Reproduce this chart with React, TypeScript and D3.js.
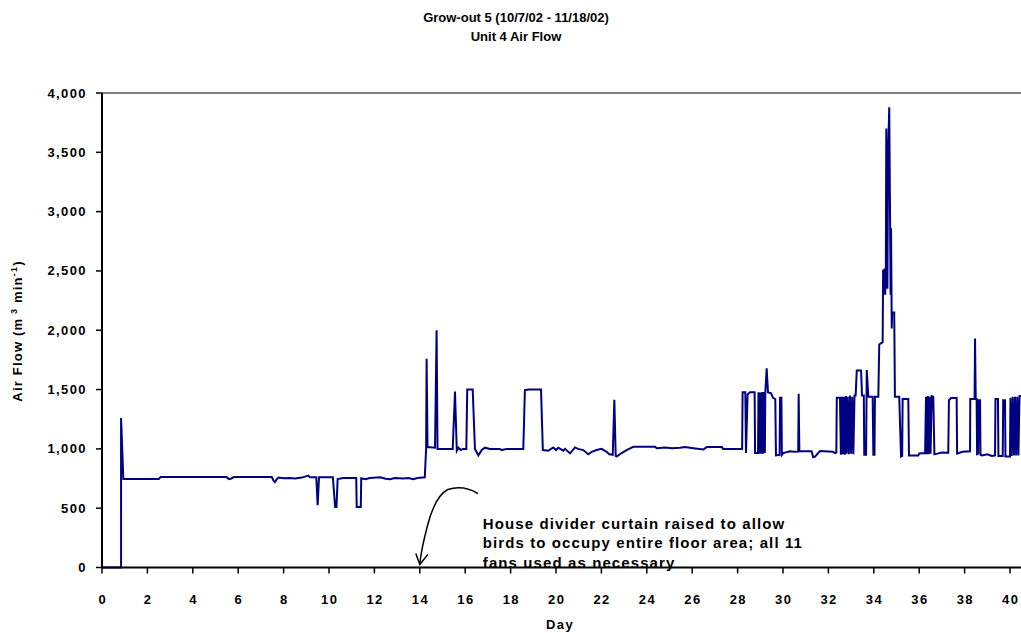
import React from 'react';
import * as d3 from 'd3';

const TITLE_LINES = ['Grow-out 5 (10/7/02 - 11/18/02)', 'Unit 4 Air Flow'];
const X_TICKS = d3.range(0, 41, 2);
const Y_TICKS = [0, 500, 1000, 1500, 2000, 2500, 3000, 3500, 4000];
const NOTE_LINES = [
  'House divider curtain raised to allow',
  'birds to occupy entire floor area; all 11',
  'fans used as necessary',
];
const NOTE_DAY = 14.0; // day the curtain was raised

// [day, air flow m3/min]
const HALF_HOUSE: [number, number][] = [
  [0, 0], [0.84, 0], [0.84, 1260], [0.94, 745], [2.5, 745], [2.58, 762], [5.49, 762],
  [5.6, 745], [5.7, 750], [5.8, 762], [7.48, 762], [7.55, 735], [7.62, 720], [7.7, 745],
  [7.78, 758], [8.0, 752], [8.28, 755], [8.5, 750], [8.8, 758], [9.09, 775], [9.16, 760],
  [9.44, 760], [9.5, 525], [9.56, 760], [10.17, 760], [10.27, 510], [10.33, 510],
  [10.38, 745], [10.63, 755], [11.2, 755], [11.22, 510], [11.4, 510], [11.42, 752],
  [11.6, 745], [11.8, 755], [12.25, 760], [12.5, 748], [12.69, 745], [12.9, 755],
  [13.27, 750], [13.5, 755], [13.71, 745], [13.9, 755], [14.22, 760],
];

const FULL_HOUSE: [number, number][] = [
  [14.28, 1010], [14.3, 1760], [14.34, 1015], [14.67, 1010], [14.74, 2000], [14.78, 1000],
  [15.45, 1000], [15.55, 1484], [15.63, 985], [15.7, 1010], [15.8, 990], [15.9, 1000],
  [16.05, 1000], [16.09, 1500], [16.33, 1500], [16.43, 1000], [16.58, 945], [16.73, 990],
  [16.87, 1010], [17.09, 1000], [17.53, 1000], [17.61, 990], [17.83, 1000], [18.56, 1000],
  [18.63, 1495], [18.8, 1500], [19.34, 1500], [19.42, 990], [19.66, 985], [19.88, 1012],
  [20.0, 990], [20.1, 1010], [20.32, 985], [20.4, 1000], [20.62, 962], [20.84, 1012],
  [20.97, 1000], [21.2, 990], [21.42, 955], [21.57, 975], [21.79, 990], [22.01, 1000],
  [22.23, 975], [22.35, 955], [22.5, 950], [22.57, 1414], [22.63, 940], [22.67, 935],
  [22.89, 965], [23.11, 990], [23.33, 1010], [23.41, 1018], [24.36, 1018], [24.44, 1005],
  [24.8, 1012], [25.11, 1005], [25.46, 1010], [25.68, 1015], [26.05, 1005], [26.49, 995],
  [26.64, 1015], [27.31, 1015], [27.36, 1000], [28.2, 1000],
];

const LATE_FLOCK: [number, number][] = [
  [28.22, 1478], [28.34, 1478], [28.37, 965], [28.44, 1458], [28.55, 1478], [28.75, 1478],
  [28.77, 965], [28.9, 965], [28.92, 1478], [28.96, 960], [29.0, 1475], [29.04, 960],
  [29.08, 1480], [29.12, 960], [29.16, 1480], [29.2, 965], [29.22, 1470], [29.28, 1680],
  [29.34, 1475], [29.47, 1470], [29.56, 1430], [29.66, 1420], [29.69, 945], [29.85, 950],
  [29.87, 1430], [29.93, 1430], [29.95, 950], [30.01, 965], [30.31, 980], [30.5, 975],
  [30.67, 978], [30.69, 1464], [30.72, 980], [31.26, 980], [31.33, 930], [31.41, 935],
  [31.63, 982], [32.2, 975], [32.3, 965], [32.35, 970], [32.37, 1432], [32.51, 1432],
  [32.55, 950], [32.6, 1440], [32.64, 955], [32.68, 1440], [32.72, 950], [32.77, 1445],
  [32.8, 960], [32.85, 1440], [32.9, 955], [32.95, 1450], [33.0, 960], [33.05, 1440],
  [33.1, 955], [33.15, 1450], [33.2, 1450], [33.25, 1660], [33.44, 1660], [33.48, 1450],
  [33.56, 1450], [33.58, 950], [33.66, 950], [33.69, 1665], [33.76, 1440], [33.95, 1440],
  [33.98, 950], [34.03, 950], [34.05, 1440], [34.2, 1440], [34.24, 1880], [34.39, 1900],
  [34.41, 2510], [34.44, 2300], [34.47, 2520], [34.5, 2300], [34.53, 2500], [34.55, 3700],
  [34.6, 2350], [34.63, 3500], [34.68, 3880], [34.72, 2860], [34.74, 2300], [34.76, 2860],
  [34.79, 2015], [34.81, 2150], [34.9, 2150], [34.93, 1440], [35.12, 1440], [35.2, 935],
  [35.25, 940], [35.27, 1420], [35.52, 1420], [35.55, 945], [35.96, 945], [36.0, 962],
  [36.26, 965], [36.3, 1440], [36.34, 955], [36.38, 1445], [36.42, 955], [36.46, 1440],
  [36.5, 960], [36.55, 1445], [36.62, 1440], [36.67, 955], [36.8, 960], [37.0, 970],
  [37.28, 968], [37.31, 1410], [37.4, 1428], [37.65, 1428], [37.67, 960], [37.9, 975],
  [38.24, 980], [38.25, 1420], [38.44, 1420], [38.46, 1930], [38.49, 1420], [38.53, 1420],
  [38.55, 955], [38.6, 960], [38.62, 1410], [38.68, 1410], [38.7, 950], [38.77, 945],
  [39.0, 955], [39.2, 940], [39.34, 945], [39.36, 1420], [39.47, 1420], [39.49, 940],
  [39.68, 940], [39.7, 1410], [39.78, 1410], [39.8, 935], [40.0, 935], [40.02, 1430],
  [40.07, 940], [40.12, 1440], [40.17, 945], [40.22, 1440], [40.27, 945], [40.32, 1440],
  [40.37, 945], [40.42, 1445], [40.48, 1445],
];

const FONT = '"Liberation Sans", Arial, Helvetica, sans-serif';

export default function App() {
  const W = 1021;
  const H = 633;
  const x = d3.scaleLinear().domain([0, 42]).range([102, 102 + 42 * 22.7]);
  const y = d3.scaleLinear().domain([0, 4000]).range([567.5, 93]);
  const data = [...HALF_HOUSE, ...FULL_HOUSE, ...LATE_FLOCK];
  const line = d3.line<[number, number]>().x((d) => x(d[0])).y((d) => y(d[1]));
  const fmt = d3.format(',');

  const tipX = x(NOTE_DAY);
  const tipY = y(0) - 3;
  const arrowPath = `M${tipX + 58},${tipY - 71} C${tipX + 48},${tipY - 77} ${tipX + 38},${tipY - 78} ${tipX + 28},${tipY - 75} C${tipX + 18},${tipY - 70} ${tipX + 12},${tipY - 55} ${tipX + 8},${tipY - 40} C${tipX + 4},${tipY - 25} ${tipX + 1},${tipY - 12} ${tipX},${tipY}`;
  const headPath = `M${tipX - 4},${tipY - 11} L${tipX},${tipY} L${tipX + 8},${tipY - 10}`;

  return (
    <svg width={W} height={H} style={{ position: 'absolute', left: 0, top: 0, display: 'block', background: '#fff' }}
      fontFamily={FONT} fontWeight="bold">
      <defs>
        <clipPath id="plot">
          <rect x={x(0)} y={y(4000) - 2} width={W - x(0)} height={y(0) - y(4000) + 4} />
        </clipPath>
      </defs>
      {TITLE_LINES.map((t, i) => (
        <text key={t} x={516} y={22 + i * 19} textAnchor="middle" fontSize={13}>{t}</text>
      ))}
      {/* plot area top border */}
      <line x1={x(0)} x2={W} y1={y(4000)} y2={y(4000)} stroke="#808080" strokeWidth={2} />
      <path d={line(data) || ''} fill="none" stroke="#000080" strokeWidth={2} strokeLinejoin="miter" clipPath="url(#plot)" />
      {/* y axis */}
      <line x1={x(0)} x2={x(0)} y1={y(4000)} y2={y(0)} stroke="#000" strokeWidth={2} />
      {Y_TICKS.map((v) => (
        <g key={v}>
          <line x1={x(0) - 6} x2={x(0)} y1={y(v)} y2={y(v)} stroke="#000" strokeWidth={1.5} />
          <text x={87} y={y(v)} dy="0.35em" textAnchor="end" fontSize={13} letterSpacing={1.4}>{fmt(v)}</text>
        </g>
      ))}
      {/* x axis */}
      <line x1={x(0)} x2={W} y1={y(0)} y2={y(0)} stroke="#000" strokeWidth={2} />
      {X_TICKS.map((d) => (
        <g key={d}>
          <line x1={x(d)} x2={x(d)} y1={y(0)} y2={y(0) + 6} stroke="#000" strokeWidth={1.5} />
          <text x={x(d) + 0.7} y={604} textAnchor="middle" fontSize={13} letterSpacing={1.4}>{d}</text>
        </g>
      ))}
      <text x={560} y={629} textAnchor="middle" fontSize={13} letterSpacing={1.4}>Day</text>
      <text transform="translate(22,331) rotate(-90)" textAnchor="middle" fontSize={13} letterSpacing={1.2}>
        Air Flow (m<tspan fontSize={9} dy={-5}> 3</tspan><tspan dy={5}> min</tspan><tspan fontSize={9} dy={-5}>-1</tspan><tspan dy={5}>)</tspan>
      </text>
      {/* annotation */}
      <path d={arrowPath} fill="none" stroke="#000" strokeWidth={1.5} />
      <path d={headPath} fill="none" stroke="#000" strokeWidth={1.5} />
      {NOTE_LINES.map((t, i) => (
        <text key={t} x={tipX + 63} y={tipY - 36 + i * 19.5} fontSize={15} letterSpacing={1.1}>{t}</text>
      ))}
    </svg>
  );
}
